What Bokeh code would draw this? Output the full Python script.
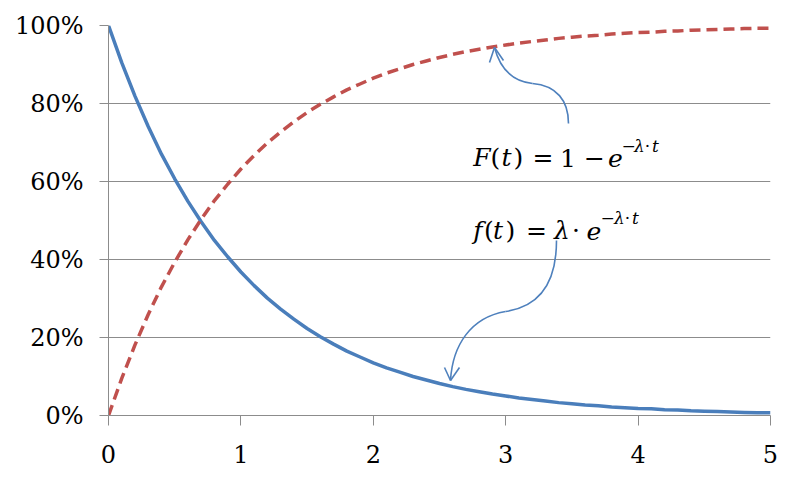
from bokeh.plotting import figure
from bokeh.models import FixedTicker, Range1d, Label
from bokeh.embed import file_html
from bokeh.resources import INLINE

# ---- data ----
t_values = [0.0, 0.1, 0.2, 0.3, 0.4, 0.5, 0.6, 0.7, 0.8, 0.9,
            1.0, 1.1, 1.2, 1.3, 1.4, 1.5, 1.6, 1.7, 1.8, 1.9,
            2.0, 2.1, 2.2, 2.3, 2.4, 2.5, 2.6, 2.7, 2.8, 2.9,
            3.0, 3.1, 3.2, 3.3, 3.4, 3.5, 3.6, 3.7, 3.8, 3.9,
            4.0, 4.1, 4.2, 4.3, 4.4, 4.5, 4.6, 4.7, 4.8, 4.9, 5.0]
f_density = [100.0, 90.5, 81.9, 74.1, 67.0, 60.7, 54.9, 49.7, 44.9, 40.7,
             36.8, 33.3, 30.1, 27.3, 24.7, 22.3, 20.2, 18.3, 16.5, 15.0,
             13.5, 12.2, 11.1, 10.0, 9.1, 8.2, 7.4, 6.7, 6.1, 5.5,
             5.0, 4.5, 4.1, 3.7, 3.3, 3.0, 2.7, 2.5, 2.2, 2.0,
             1.8, 1.7, 1.5, 1.4, 1.2, 1.1, 1.0, 0.9, 0.8, 0.7, 0.7]
F_cumulative = [0.0, 9.5, 18.1, 25.9, 33.0, 39.3, 45.1, 50.3, 55.1, 59.3,
                63.2, 66.7, 69.9, 72.7, 75.3, 77.7, 79.8, 81.7, 83.5, 85.0,
                86.5, 87.8, 88.9, 90.0, 90.9, 91.8, 92.6, 93.3, 93.9, 94.5,
                95.0, 95.5, 95.9, 96.3, 96.7, 97.0, 97.3, 97.5, 97.8, 98.0,
                98.2, 98.3, 98.5, 98.6, 98.8, 98.9, 99.0, 99.1, 99.2, 99.3, 99.3]
x_ticks = [0, 1, 2, 3, 4, 5]
x_tick_labels = ["0", "1", "2", "3", "4", "5"]
y_ticks = [0, 20, 40, 60, 80, 100]
y_tick_labels = ["0%", "20%", "40%", "60%", "80%", "100%"]

BLUE = "#4a7ebb"
RED = "#c0504d"
GRID = "#8c8c8c"
SERIF = "DejaVu Serif"

p = figure(width=784, height=472, output_backend="svg", toolbar_location=None,
           x_range=Range1d(0, 5), y_range=Range1d(0, 100),
           min_border_left=108, min_border_right=14, min_border_top=25,
           min_border_bottom=57)
p.outline_line_color = None
p.background_fill_color = "white"
p.border_fill_color = "white"

p.xgrid.grid_line_color = None
p.ygrid.grid_line_color = GRID
p.ygrid.grid_line_width = 1
p.ygrid.ticker = FixedTicker(ticks=y_ticks)

p.xaxis.ticker = FixedTicker(ticks=x_ticks)
p.xaxis.major_label_overrides = dict(zip(x_ticks, x_tick_labels))
p.yaxis.ticker = FixedTicker(ticks=y_ticks)
p.yaxis.major_label_overrides = dict(zip(y_ticks, y_tick_labels))

for ax in (p.xaxis, p.yaxis):
    ax.axis_line_color = GRID
    ax.major_tick_line_color = GRID
    ax.minor_tick_line_color = None
    ax.major_tick_in = 0
    ax.major_label_text_font = SERIF
    ax.major_label_text_font_size = "24px"
    ax.major_label_text_color = "black"
p.xaxis.major_tick_out = 10
p.xaxis.major_label_standoff = 19
p.yaxis.major_tick_out = 9
p.yaxis.major_label_standoff = 16

p.line(t_values, f_density, line_color=BLUE, line_width=3.5)
p.line(t_values, F_cumulative, line_color=RED, line_width=3.5, line_dash="11 6")

# ---- annotations (picture pixel positions converted to data space) ----
def dx(px):
    return (px - 108) / 132.4

def dy(py):
    return (415 - py) / 3.9

ARROW = "#4f81bd"

def curved_arrow(segs, tip, arms):
    for (p0, c1, c2, p3) in segs:
        p.bezier(x0=[dx(p0[0])], y0=[dy(p0[1])], x1=[dx(p3[0])], y1=[dy(p3[1])],
                 cx0=[dx(c1[0])], cy0=[dy(c1[1])], cx1=[dx(c2[0])], cy1=[dy(c2[1])],
                 line_color=ARROW, line_width=1.6)
    for a in arms:
        p.segment(x0=[dx(tip[0])], y0=[dy(tip[1])], x1=[dx(a[0])], y1=[dy(a[1])],
                  line_color=ARROW, line_width=1.6)

curved_arrow([((568, 123), (568, 100), (556, 85), (532, 83)),
              ((532, 83), (514, 81), (500, 70), (494, 47))],
             (494, 47), [(489, 62), (503, 60)])
curved_arrow([((556, 240), (556, 282), (540, 306), (505, 311)),
              ((505, 311), (470, 317), (452, 345), (450, 380))],
             (450, 380), [(444, 367), (459, 367)])

def formula(pieces, baseline, sup_baseline):
    for txt, cx, italic, sup in pieces:
        p.add_layout(Label(x=dx(cx), y=dy(sup_baseline if sup else baseline),
                           text=txt, text_align="center", text_baseline="alphabetic",
                           text_font=SERIF, text_font_size="17px" if sup else "25px",
                           text_font_style="italic" if italic else "normal",
                           text_color="black"))

formula([("F", 481.5, True, False), ("(", 495, False, False), ("t", 506, True, False),
         (")", 518, False, False), ("=", 542.5, False, False), ("1", 567.5, False, False),
         ("\u2212", 594, False, False), ("e", 615, True, False),
         ("\u2212", 628, False, True), ("\u03bb", 639, True, True),
         ("\u00b7", 647, False, True), ("t", 655, True, True)], 157, 145)

formula([("f", 477.5, True, False), ("(", 488.5, False, False), ("t", 497.5, True, False),
         (")", 510, False, False), ("=", 536, False, False), ("\u03bb", 561.5, True, False),
         ("\u00b7", 575.5, False, False), ("e", 593.5, True, False),
         ("\u2212", 607, False, True), ("\u03bb", 619, True, True),
         ("\u00b7", 627, False, True), ("t", 635, True, True)], 230, 217)

open("out.html", "w").write(file_html(p, INLINE))
